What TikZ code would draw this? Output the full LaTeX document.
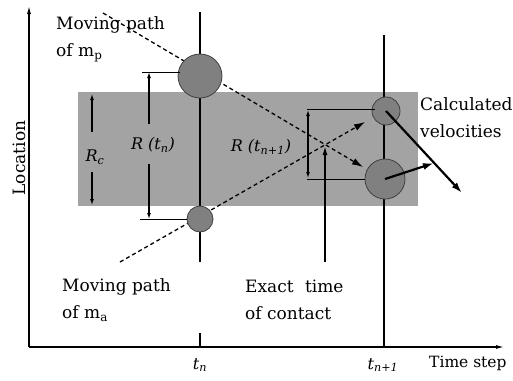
\documentclass[tikz,border=0pt]{standalone}
\usepackage{fontspec}
\setmainfont{DejaVu Serif}
\usetikzlibrary{arrows.meta}
\begin{document}
\begin{tikzpicture}[x=1pt,y=-1pt,
  lbl/.style={font=\fontsize{17}{27}\selectfont, align=left, inner sep=0pt},
  ilbl/.style={font=\fontsize{16}{20}\selectfont\itshape, inner sep=0pt},
  ball/.style={circle, draw=black!75, line width=0.8pt, fill=black!50, inner sep=0pt},
  mpath/.style={dash pattern=on 4pt off 3pt, line width=1.3pt, -{Latex[length=11pt,width=7pt]}},
  tline/.style={line width=1.2pt},
  thin line/.style={line width=1pt},
  axis/.style={line width=1.2pt, -{Latex[length=8pt,width=4pt]}},
  dim/.style={line width=1.1pt, -{Latex[length=6pt,width=4pt]}},
  vel/.style={line width=2.2pt, -{Latex[length=11pt,width=7pt]}}]
\useasboundingbox (0,0) rectangle (513,380);

% gray contact band
\fill[black!36] (78,92) rectangle (418,206);

% axes
\coordinate (O) at (29,347);
\coordinate (ytop) at (29,6);
\coordinate (xend) at (504,347);
\draw[axis] (O) -- (ytop);
\draw[axis] (O) -- (xend);

% time lines
\coordinate (tntop) at (200,12);
\coordinate (tnbot) at (200,262);
\coordinate (tntick) at (200,333);
\coordinate (tnaxis) at (200,347);
\coordinate (tmtop) at (384,35);
\coordinate (tmaxis) at (384,347);
\draw[tline] (tntop) -- (tnbot);
\draw[tline] (tntick) -- (tnaxis);
\draw[tline] (tmtop) -- (tmaxis);

% moving paths
\coordinate (mpstart) at (103,13);
\coordinate (mpend) at (363,167);
\coordinate (mastart) at (120,262);
\coordinate (maend) at (365,122);
\draw[mpath] (mpstart) -- (mpend);
\draw[mpath] (mastart) -- (maend);

% balls
\node[ball, minimum size=44pt] (P1) at (200,76) {};
\node[ball, minimum size=26pt] (A1) at (200,219) {};
\node[ball, minimum size=28pt] (A2) at (386,111) {};
\node[ball, minimum size=40pt] (P2) at (385,179) {};

% R(t_n)
\coordinate (rn1) at (142,72);
\coordinate (rn1e) at (180,72);
\coordinate (rn2) at (140,219);
\coordinate (rn2e) at (187,219);
\draw[thin line] (rn1) -- (rn1e);
\draw[thin line] (rn2) -- (rn2e);
\node[ilbl] (Rn) at (153,145) {R (t\textsubscript{n})};
\coordinate (rna) at (149,72);
\coordinate (rnb) at (149,219);
\draw[dim] (149,124) -- (rna);
\draw[dim] (149,164) -- (rnb);

% R_c
\node[ilbl] (Rc) at (95,157) {R\textsubscript{c}};
\coordinate (rca) at (92,94);
\coordinate (rcb) at (92,205);
\draw[dim] (92,132) -- (rca);
\draw[dim] (92,172) -- (rcb);

% R(t_{n+1})
\coordinate (rm1) at (307,109);
\coordinate (rm1e) at (375,109);
\coordinate (rm2) at (307,179);
\coordinate (rm2e) at (365,179);
\draw[thin line] (rm1) -- (rm1e);
\draw[thin line] (rm2) -- (rm2e);
\draw[line width=1.1pt, {Latex[length=6pt,width=4pt]}-{Latex[length=6pt,width=4pt]}] (308,110) -- (308,178);
\node[ilbl] (Rm) at (261,147) {R (t\textsubscript{n+1})};

% exact time of contact
\coordinate (ex0) at (325,262);
\coordinate (ex1) at (325,146);
\draw[line width=1.5pt, -{Latex[length=9pt,width=5pt]}] (ex0) -- (ex1);

% velocities
\coordinate (v1) at (462,193);
\coordinate (v2) at (434,163);
\draw[vel] (A2.center) -- (v1);
\draw[vel] (P2.center) -- (v2);

% labels
\node[lbl, anchor=west] (lmp) at (56,39) {Moving path\\of m\textsubscript{p}};
\node[lbl, anchor=west] (lma) at (62,300) {Moving path\\of m\textsubscript{a}};
\node[lbl, anchor=west] (lex) at (245,300) {Exact\hspace{6pt} time\\of contact};
\node[lbl, anchor=west] (lcv) at (420,118) {Calculated\\velocities};
\node[lbl, rotate=90] (lloc) at (19,158) {Location};
\node[ilbl] (ltn) at (200,365) {t\textsubscript{n}};
\node[ilbl] (ltm) at (383,365) {t\textsubscript{n+1}};
\node[lbl, anchor=west, font=\fontsize{15.5}{20}\selectfont] (lts) at (429,363) {Time step};
\end{tikzpicture}
\end{document}
